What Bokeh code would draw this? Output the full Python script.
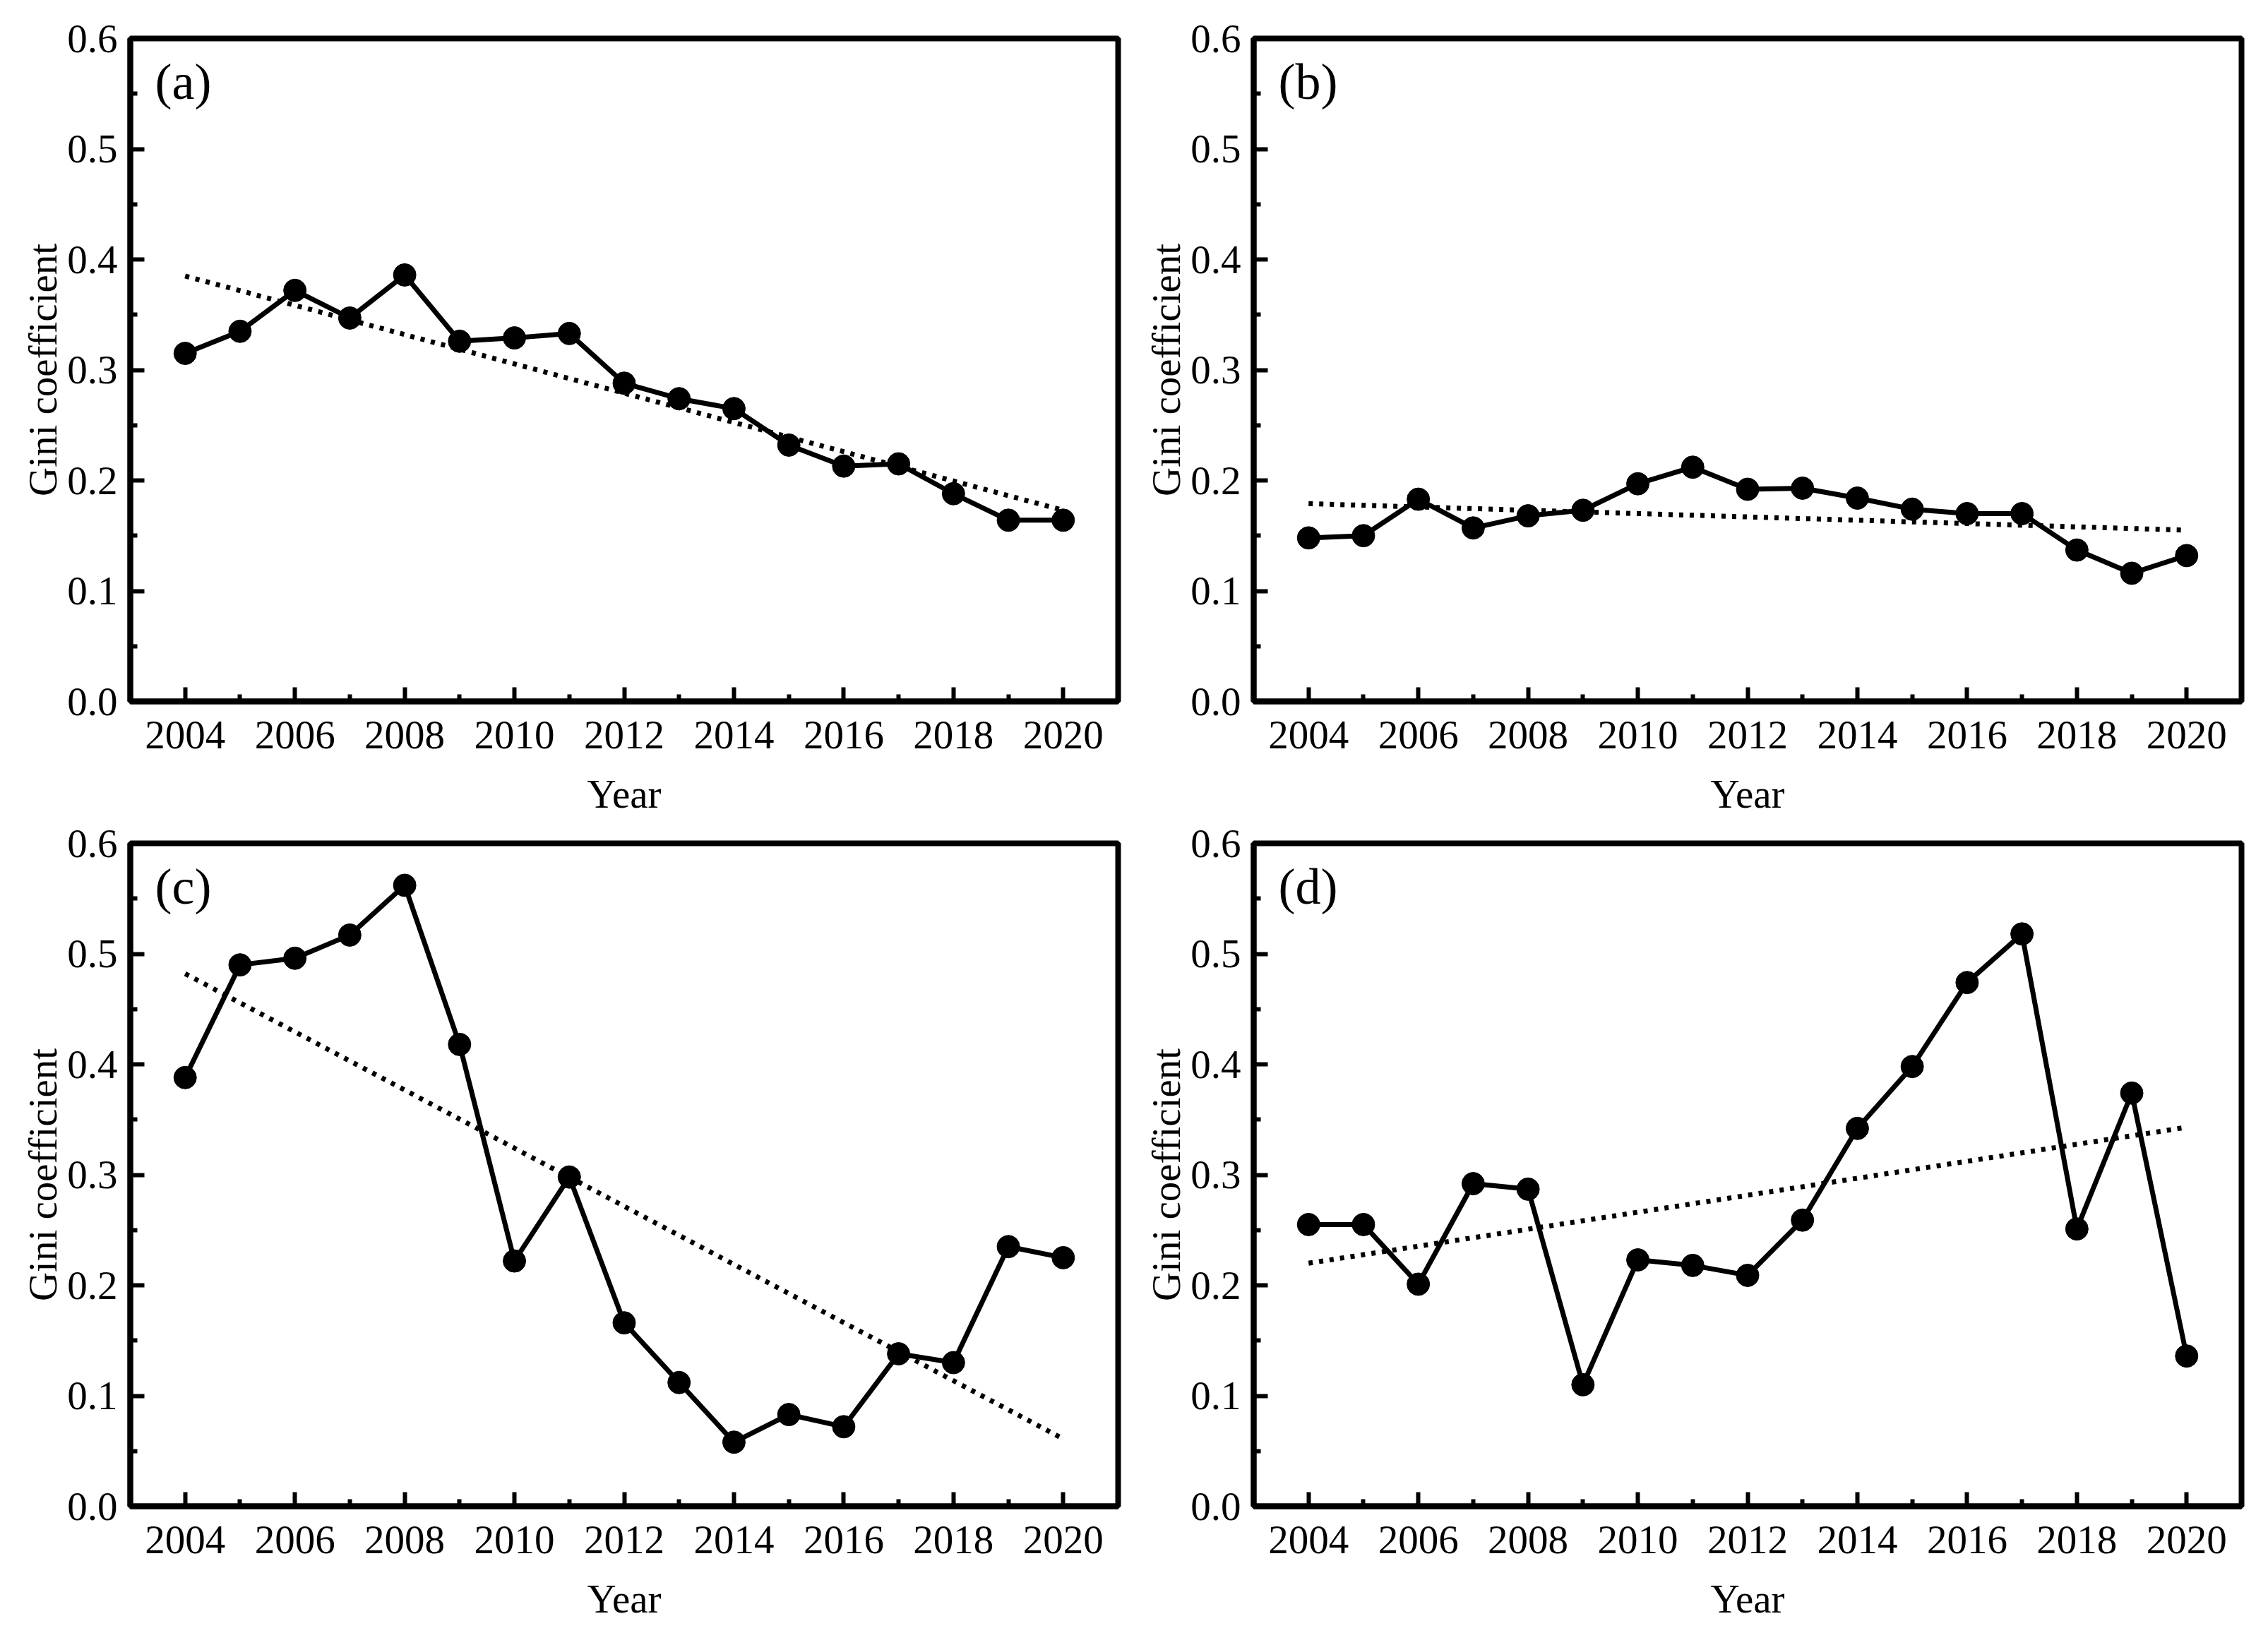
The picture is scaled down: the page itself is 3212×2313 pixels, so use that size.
from bokeh.plotting import figure
from bokeh.layouts import row, column
from bokeh.models import Range1d, FixedTicker, Label
from bokeh.embed import file_html
from bokeh.resources import INLINE

# ---------------- data ----------------
years = [2004, 2005, 2006, 2007, 2008, 2009, 2010, 2011, 2012,
         2013, 2014, 2015, 2016, 2017, 2018, 2019, 2020]

gini_a = [0.315, 0.335, 0.372, 0.347, 0.386, 0.326, 0.329, 0.333, 0.288,
          0.274, 0.265, 0.232, 0.213, 0.215, 0.188, 0.164, 0.164]
gini_b = [0.148, 0.150, 0.183, 0.157, 0.168, 0.173, 0.197, 0.212, 0.192,
          0.193, 0.184, 0.174, 0.170, 0.170, 0.137, 0.116, 0.132]
gini_c = [0.388, 0.490, 0.496, 0.517, 0.562, 0.418, 0.222, 0.298, 0.166,
          0.112, 0.058, 0.083, 0.072, 0.138, 0.130, 0.235, 0.225]
gini_d = [0.255, 0.255, 0.201, 0.292, 0.287, 0.110, 0.223, 0.218, 0.209,
          0.259, 0.342, 0.398, 0.474, 0.518, 0.251, 0.374, 0.136]

trend_years = [2004, 2020]
trend_a = [0.385, 0.173]
trend_b = [0.179, 0.155]
trend_c = [0.482, 0.061]
trend_d = [0.220, 0.343]

x_ticks = [2004, 2006, 2008, 2010, 2012, 2014, 2016, 2018, 2020]
x_minor_ticks = [2005, 2007, 2009, 2011, 2013, 2015, 2017, 2019]
y_ticks = [0.0, 0.1, 0.2, 0.3, 0.4, 0.5, 0.6]
y_minor_ticks = [0.05, 0.15, 0.25, 0.35, 0.45, 0.55]
y_tick_labels = ["0.0", "0.1", "0.2", "0.3", "0.4", "0.5", "0.6"]

panel_labels = ["(a)", "(b)", "(c)", "(d)"]
x_title = "Year"
y_title = "Gini coefficient"

FONT = "Liberation Serif"


def make_panel(values, trend, label, top_border):
    p = figure(width=1591, height=top_border + 943 + 161,
               x_range=Range1d(2003, 2021), y_range=Range1d(0, 0.6),
               output_backend="svg", toolbar_location=None, tools="")
    p.min_border_left = 184
    p.min_border_right = 8
    p.min_border_top = top_border
    p.min_border_bottom = 161
    p.background_fill_color = "white"
    p.border_fill_color = "white"
    p.xgrid.visible = False
    p.ygrid.visible = False
    p.outline_line_color = "black"
    p.outline_line_width = 8
    p.outline_line_alpha = 1.0

    p.xaxis.ticker = FixedTicker(ticks=x_ticks, minor_ticks=x_minor_ticks)
    p.yaxis.ticker = FixedTicker(ticks=y_ticks, minor_ticks=y_minor_ticks)
    p.yaxis.major_label_overrides = {t: s for t, s in zip(y_ticks, y_tick_labels)}

    for ax in (p.xaxis[0], p.yaxis[0]):
        ax.axis_line_color = "black"
        ax.axis_line_width = 8
        ax.major_tick_in = 20
        ax.major_tick_out = 0
        ax.minor_tick_in = 10
        ax.minor_tick_out = 0
        ax.major_tick_line_width = 6
        ax.minor_tick_line_width = 6
        ax.major_tick_line_color = "black"
        ax.minor_tick_line_color = "black"
        ax.major_label_text_font = FONT
        ax.major_label_text_font_size = "57px"
        ax.major_label_text_color = "black"
        ax.axis_label_text_font = FONT
        ax.axis_label_text_font_size = "57px"
        ax.axis_label_text_font_style = "normal"
        ax.axis_label_text_color = "black"

    p.xaxis.axis_label = x_title
    p.yaxis.axis_label = y_title
    p.xaxis.major_label_standoff = 28
    p.xaxis.axis_label_standoff = 30
    p.yaxis.major_label_standoff = 18
    p.yaxis.axis_label_standoff = 0

    p.line(trend_years, trend, line_color="black", line_width=7,
           line_dash="6 9")
    p.line(years, values, line_color="black", line_width=7)
    p.scatter(years, values, marker="circle", size=32,
              fill_color="black", line_color="black")

    p.add_layout(Label(x=2003.45, y=0.561, text=label, text_font=FONT,
                       text_font_size="72px", text_color="black",
                       text_baseline="alphabetic", text_align="left"))
    return p


pa = make_panel(gini_a, trend_a, panel_labels[0], 54)
pb = make_panel(gini_b, trend_b, panel_labels[1], 54)
pc = make_panel(gini_c, trend_c, panel_labels[2], 36)
pd_ = make_panel(gini_d, trend_d, panel_labels[3], 36)

layout = column(row(pa, pb), row(pc, pd_))

open("out.html", "w").write(file_html(layout, INLINE))
